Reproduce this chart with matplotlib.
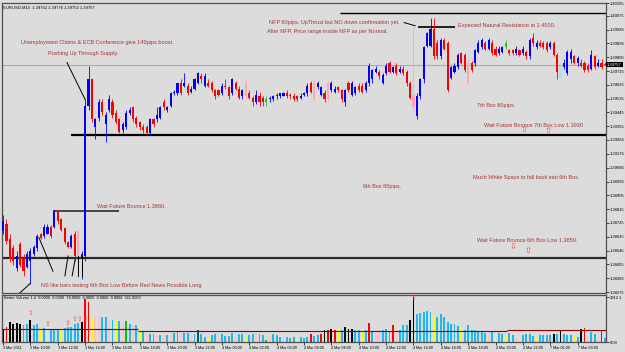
import numpy as np
import matplotlib.pyplot as plt

plt.rcParams['font.family'] = ['Liberation Sans', 'DejaVu Sans']

# ---------------- DATA : EURUSD M15, 3 Mar 2011 08:00 -> 7 Mar 2011 ---------------- #

opens = [1.3867, 1.3872, 1.3862, 1.3856, 1.3843, 1.3859, 1.3850, 1.3844, 1.3848, 1.3852,
         1.3856, 1.3865, 1.3864, 1.3865, 1.3870, 1.3870, 1.3880, 1.3875, 1.3869, 1.3860,
         1.3857, 1.3865, 1.3867, 1.3850, 1.3851, 1.3949, 1.3966, 1.3935, 1.3941, 1.3951,
         1.3937, 1.3946, 1.3951, 1.3944, 1.3940, 1.3933, 1.3935, 1.3944, 1.3948, 1.3941,
         1.3938, 1.3935, 1.3935, 1.3931, 1.3940, 1.3940, 1.3941, 1.3951, 1.3946, 1.3949,
         1.3957, 1.3957, 1.3964, 1.3962, 1.3962, 1.3958, 1.3960, 1.3964, 1.3968, 1.3962,
         1.3964, 1.3964, 1.3959, 1.3959, 1.3957, 1.3962, 1.3961, 1.3957, 1.3964, 1.3960,
         1.3955, 1.3964, 1.3957, 1.3954, 1.3951, 1.3955, 1.3954, 1.3951, 1.3953, 1.3953,
         1.3955, 1.3955, 1.3955, 1.3957, 1.3956, 1.3955, 1.3955, 1.3954, 1.3956, 1.3957,
         1.3964, 1.3964, 1.3961, 1.3956, 1.3957, 1.3964, 1.3959, 1.3958, 1.3961, 1.3959,
         1.3951, 1.3964, 1.3956, 1.3957, 1.3962, 1.3962, 1.3959, 1.3964, 1.3966, 1.3971,
         1.3971, 1.3964, 1.3970, 1.3977, 1.3971, 1.3975, 1.3971, 1.3973, 1.3971, 1.3964,
         1.3956, 1.3942, 1.3955, 1.3966, 1.3988, 1.3988, 1.3999, 1.3990, 1.3981, 1.3992,
         1.3990, 1.3967, 1.3971, 1.3974, 1.3983, 1.3982, 1.3977, 1.3977, 1.3977, 1.3984,
         1.3987, 1.3990, 1.3986, 1.3990, 1.3986, 1.3983, 1.3984, 1.3987, 1.3985, 1.3985,
         1.3983, 1.3985, 1.3983, 1.3984, 1.3981, 1.3993, 1.3987, 1.3990, 1.3990, 1.3990,
         1.3987, 1.3990, 1.3982, 1.3967, 1.3974, 1.3970, 1.3979, 1.3981, 1.3977, 1.3977,
         1.3977, 1.3975, 1.3973, 1.3981, 1.3975, 1.3977, 1.39762]

highs = [1.3878, 1.3875, 1.3865, 1.3858, 1.3854, 1.3860, 1.3852, 1.3854, 1.3856, 1.3858,
         1.3865, 1.3866, 1.3872, 1.3872, 1.3871, 1.3881, 1.3881, 1.3876, 1.3870, 1.3861,
         1.3865, 1.3867, 1.3868, 1.3854, 1.3953, 1.3975, 1.3967, 1.3941, 1.3953, 1.3953,
         1.3945, 1.3956, 1.3953, 1.3946, 1.3941, 1.3938, 1.3946, 1.3948, 1.3949, 1.3942,
         1.3939, 1.3937, 1.3936, 1.3941, 1.3941, 1.3948, 1.3949, 1.3953, 1.3949, 1.3958,
         1.3959, 1.3964, 1.3966, 1.3970, 1.3964, 1.3962, 1.3967, 1.3971, 1.3970, 1.3970,
         1.3966, 1.3965, 1.3960, 1.3960, 1.3964, 1.3966, 1.3962, 1.3967, 1.3965, 1.3962,
         1.3960, 1.3967, 1.3959, 1.3955, 1.3959, 1.3958, 1.3955, 1.3955, 1.3955, 1.3956,
         1.3957, 1.3957, 1.3958, 1.3959, 1.3957, 1.3957, 1.3956, 1.3957, 1.3958, 1.3964,
         1.3965, 1.3966, 1.3965, 1.3962, 1.3959, 1.3965, 1.3965, 1.3962, 1.3962, 1.3960,
         1.3960, 1.3965, 1.3965, 1.3962, 1.3964, 1.3964, 1.3965, 1.3977, 1.3973, 1.3975,
         1.3972, 1.3970, 1.3977, 1.3978, 1.3975, 1.3977, 1.3975, 1.3975, 1.3972, 1.3965,
         1.4001, 1.3957, 1.3967, 1.3988, 1.3997, 1.4006, 1.4006, 1.3992, 1.3993, 1.3993,
         1.3991, 1.3975, 1.3977, 1.3983, 1.3984, 1.3983, 1.3979, 1.3978, 1.3986, 1.3992,
         1.3993, 1.3991, 1.3993, 1.3992, 1.3988, 1.3988, 1.3988, 1.3992, 1.3986, 1.3986,
         1.3988, 1.3986, 1.3988, 1.3985, 1.3993, 1.3996, 1.3992, 1.3992, 1.3991, 1.3991,
         1.3991, 1.3991, 1.3983, 1.3977, 1.3979, 1.3985, 1.3986, 1.3982, 1.3981, 1.3979,
         1.3978, 1.3977, 1.3985, 1.3982, 1.3979, 1.3979, 1.39776]

lows = [1.3865, 1.3859, 1.3847, 1.3845, 1.3841, 1.3844, 1.3838, 1.3843, 1.3833, 1.3851,
        1.3854, 1.3862, 1.3863, 1.3865, 1.3863, 1.3869, 1.3872, 1.3867, 1.3859, 1.3856,
        1.3856, 1.3848, 1.3845, 1.3836, 1.3848, 1.3946, 1.3938, 1.3927, 1.3939, 1.3943,
        1.3925, 1.3945, 1.3941, 1.3937, 1.3931, 1.3931, 1.3934, 1.3943, 1.3938, 1.3935,
        1.3933, 1.3931, 1.3930, 1.3930, 1.3935, 1.3938, 1.3940, 1.3946, 1.3945, 1.3948,
        1.3956, 1.3956, 1.3956, 1.3961, 1.3956, 1.3957, 1.3959, 1.3963, 1.3964, 1.3961,
        1.3961, 1.3958, 1.3953, 1.3955, 1.3956, 1.3960, 1.3953, 1.3956, 1.3959, 1.3953,
        1.3953, 1.3953, 1.3953, 1.3949, 1.3950, 1.3949, 1.3949, 1.3949, 1.3951, 1.3952,
        1.3953, 1.3954, 1.3955, 1.3954, 1.3953, 1.3952, 1.3952, 1.3953, 1.3955, 1.3955,
        1.3957, 1.3951, 1.3960, 1.3955, 1.3951, 1.3951, 1.3958, 1.3957, 1.3958, 1.3951,
        1.3949, 1.3958, 1.3955, 1.3956, 1.3958, 1.3957, 1.3958, 1.3962, 1.3964, 1.3970,
        1.3966, 1.3963, 1.3969, 1.3970, 1.3970, 1.3969, 1.3970, 1.3969, 1.3962, 1.3953,
        1.3945, 1.3940, 1.3953, 1.3964, 1.3987, 1.3987, 1.3979, 1.3979, 1.3979, 1.3985,
        1.3958, 1.3966, 1.3970, 1.3973, 1.3976, 1.3971, 1.3962, 1.3971, 1.3975, 1.3983,
        1.3986, 1.3985, 1.3985, 1.3982, 1.3981, 1.3982, 1.3983, 1.3986, 1.3982, 1.3982,
        1.3982, 1.3981, 1.3982, 1.3979, 1.3979, 1.3988, 1.3986, 1.3987, 1.3986, 1.3984,
        1.3986, 1.3981, 1.3966, 1.3964, 1.3973, 1.3969, 1.3977, 1.3976, 1.3975, 1.3974,
        1.3971, 1.3971, 1.3972, 1.3973, 1.3974, 1.3973, 1.39752]

closes = [1.3874, 1.3861, 1.3849, 1.3848, 1.3851, 1.3845, 1.3841, 1.3852, 1.3854, 1.3857,
          1.3864, 1.3863, 1.3870, 1.3870, 1.3864, 1.3880, 1.3874, 1.3868, 1.3860, 1.3857,
          1.3864, 1.3851, 1.3851, 1.3852, 1.3949, 1.3966, 1.3940, 1.3940, 1.3951, 1.3945,
          1.3943, 1.3953, 1.3943, 1.3938, 1.3932, 1.3937, 1.3944, 1.3946, 1.3940, 1.3937,
          1.3935, 1.3933, 1.3931, 1.3940, 1.3937, 1.3943, 1.3948, 1.3948, 1.3948, 1.3957,
          1.3958, 1.3964, 1.3957, 1.3964, 1.3957, 1.3960, 1.3966, 1.3970, 1.3966, 1.3968,
          1.3962, 1.3959, 1.3955, 1.3956, 1.3962, 1.3961, 1.3955, 1.3966, 1.3960, 1.3954,
          1.3959, 1.3955, 1.3954, 1.3951, 1.3956, 1.3951, 1.3951, 1.3953, 1.3954, 1.3955,
          1.3956, 1.3957, 1.3957, 1.3955, 1.3955, 1.3953, 1.3953, 1.3955, 1.3957, 1.3962,
          1.3958, 1.3953, 1.3964, 1.3961, 1.3953, 1.3953, 1.3964, 1.3960, 1.3959, 1.3953,
          1.3959, 1.3959, 1.3964, 1.3961, 1.3959, 1.3958, 1.3964, 1.3975, 1.3972, 1.3973,
          1.3968, 1.3969, 1.3975, 1.3971, 1.3974, 1.3970, 1.3973, 1.3970, 1.3964, 1.3954,
          1.3948, 1.3955, 1.3966, 1.3987, 1.3996, 1.3999, 1.3981, 1.3981, 1.3992, 1.3986,
          1.3959, 1.3974, 1.3975, 1.3982, 1.3977, 1.3972, 1.3964, 1.3972, 1.3985, 1.3990,
          1.3992, 1.3986, 1.3992, 1.3983, 1.3982, 1.3986, 1.3987, 1.3990, 1.3983, 1.3983,
          1.3986, 1.3982, 1.3986, 1.3981, 1.3992, 1.3990, 1.3990, 1.3988, 1.3987, 1.3985,
          1.3990, 1.3982, 1.3971, 1.3975, 1.3977, 1.3984, 1.3984, 1.3977, 1.3980, 1.3975,
          1.3972, 1.3972, 1.3982, 1.3974, 1.3977, 1.3974, 1.39757]

# candle type: b up, r down, p weak down, c weak up, g neutral
bar_kind = ("brrrbrrbbb" "brbbrbrrrr" "brpbbbrbbr" "bbrrrbbbrr" "rrrbrbbrbb"
            "bbrbrbbbrb" "rrrrbrrbrr" "bprrbrrgbb" "bbbrrrrbbb" "rpbbrpbbrr"
            "brbbrrbbbb" "rbbrbrbrrr" "pbbbbbrrbr" "rbbbrrprbb" "brbrrbbgrr"
            "brbrbrbrrr" "brrcbbbrbr" "rrbrbrr")

volume = [680, 765, 1020, 935, 969, 935, 884, 935, 1139, 850,
          935, 629, 714, 765, 629, 680, 680, 629, 714, 765,
          765, 935, 969, 1020, 2200, 2040, 1309, 1309, 1309, 1309,
          1275, 1105, 1139, 1054, 1071, 969, 1054, 935, 850, 850,
          629, 510, 425, 425, 425, 340, 340, 340, 340, 340,
          459, 510, 425, 459, 459, 340, 425, 595, 425, 255,
          255, 340, 391, 340, 391, 289, 289, 459, 340, 425,
          391, 255, 340, 391, 340, 425, 340, 119, 289, 425,
          340, 255, 289, 255, 221, 255, 170, 255, 221, 255,
          425, 289, 340, 391, 629, 629, 680, 629, 629, 629,
          765, 680, 680, 595, 595, 561, 595, 969, 561, 510,
          510, 595, 680, 561, 850, 680, 595, 850, 850, 1105,
          2312, 1445, 1479, 1530, 1615, 1530, 1360, 1309, 1445, 1275,
          1020, 935, 935, 799, 765, 629, 884, 629, 595, 510,
          510, 459, 425, 510, 255, 459, 425, 289, 459, 340,
          255, 255, 340, 425, 391, 289, 255, 340, 340, 340,
          374, 425, 425, 544, 425, 340, 340, 340, 255, 680,
          731, 255, 510, 425, 255, 595, 204]

# Better Volume class: k climax, r climax down, s normal, p low, y low churn, g churn, d other
vol_kind = ("krkkkkssks" "sysysssyss" "ssskrrypps" "spsyspgsps" "yspsspspsp"
            "sspsspsdss" "ysspssssps" "sysspssgps" "sspsssysss" "rssrkrkrys"
            "kkkssysrsp" "psssrpsssk" "ksssssysss" "ssssysssss" "sspsyssyss"
            "pyssssysss" "sksksssysk" "rpssprs")

vol_avg_levels = [680, 590, 600]
vol_avg_breaks = [0, 40, 148, 177]
# signal arrows above volume bars: (bar, value, how many arrows side by side)
vol_signals = [(8, 1445, 1), (13, 900, 1), (18.8, 960, 1), (22.6, 1180, 3), (120, 2250, 1)]
vol_max = 2312.1

time_labels = ["3 Mar 2011", "3 Mar 10:00", "3 Mar 12:00", "3 Mar 14:00", "3 Mar 16:00",
               "3 Mar 18:00", "3 Mar 20:00", "3 Mar 22:00", "4 Mar 00:00", "4 Mar 02:00",
               "4 Mar 04:00", "4 Mar 06:00", "4 Mar 08:00", "4 Mar 10:00", "4 Mar 12:00",
               "4 Mar 14:00", "4 Mar 16:00", "4 Mar 18:00", "4 Mar 20:00", "4 Mar 22:00",
               "7 Mar 01:00", "7 Mar 03:00"]
price_labels = ["1.40155", "1.40075", "1.39985", "1.39895", "1.39805", "1.39715",
                "1.39625", "1.39535", "1.39445", "1.39355", "1.39266", "1.39176",
                "1.39086", "1.38995", "1.38905", "1.38815", "1.38725", "1.38635",
                "1.38545", "1.38455", "1.38366", "1.38275"]
last_price = 1.39757
header = "EURUSD,M15  1.39762 1.39776 1.39752 1.39757"
vol_header = "Better Volume 1.4  0.0000  0.0000  74.0000  0.0000  0.0000  0.0000  511.0000"

# horizontal levels: price, first bar, last bar (None = to the right edge)
levels = [(1.4009, 98.5, None, 1.0, 'black'),
          (1.4000, 121.3, 132.2, 1.2, 'black'),
          (1.3930, 19.9, None, 1.6, 'black'),
          (1.3880, 14.6, 33.9, 1.3, '#3a3a3a'),
          (1.3850, -1, None, 1.6, '#2a2a2a')]

# thin trend lines drawn by hand: (bar0, price0, bar1, price1)
pointers = [(18.7, 1.3977, 24.0, 1.3953),
            (117.3, 1.4003, 120.5, 1.4001),
            (14.6, 1.3841, 10.5, 1.3863),
            (18.1, 1.3838, 19.0, 1.3851),
            (20.2, 1.3838, 21.1, 1.3849),
            (21.9, 1.3838, 21.9, 1.3851),
            (23.1, 1.3838, 23.1, 1.3851),
            (4.5, 1.3826, 7.9, 1.3833)]

notes = [("Unemployment Claims & ECB Conference give 140pips boost.", 5.3, 1.3990),
         ("Pushing Up Through Supply.", 13.2, 1.3983),
         ("NFP 60pips. UpThrust but NO down confirmation yet.", 77.8, 1.4003),
         ("After NFP, Price range inside NFP as per Normal.", 77.2, 1.3997),
         ("Expected Natural Resistance at 1.4000.", 133.0, 1.4001),
         ("7th Box 80pips.", 138.6, 1.3949),
         ("Wait Future Bounce 7th Box Low 1.3930", 140.6, 1.3936),
         ("Much White Space to fall back into 6th Box.", 137.4, 1.3902),
         ("6th Box 80pips.", 105.3, 1.3896),
         ("Wait Future Bounce 6th Box Low 1.3850.", 138.6, 1.3861),
         ("Wait Future Bounce 1.3880.", 27.5, 1.3883),
         ("NS like bars testing 6th Box Low Before Red News Possible Long", 11.1, 1.3832)]

arrows = [("\u21e7", 152.3, 1.3933), ("\u21e7", 159.4, 1.3932),
          ("\u21e9", 149.1, 1.3856), ("\u21e7", 153.5, 1.3854)]

# ---------------- STYLE ---------------- #
bg = '#dcdcdc'
note_color = '#a83434'
candle_colors = {'b': '#0000ff', 'r': '#ff0000', 'p': '#ffa8b4', 'c': '#a8e4f4', 'g': '#30c030'}
vol_colors = {'k': '#000000', 'r': '#ff0000', 's': '#22b8ee', 'p': '#ffc0cb',
              'y': '#ffff00', 'g': '#00c800', 'd': '#2f4f4f'}

fig = plt.figure(figsize=(6.25, 3.52), dpi=100, facecolor=bg)
ax = fig.add_axes([2/625, 59.5/352, 604/625, 289.5/352], facecolor=bg)
vax = fig.add_axes([2/625, 10/352, 604/625, 47/352], facecolor=bg)

n = len(opens)
x = np.arange(n)
o = np.array(opens)
c = np.array(closes)
cols = [candle_colors[k] for k in bar_kind]

xmin, xmax = -0.3, 176.3

# ---------------- PRICE PANEL ---------------- #
ax.axhline(last_price, color='#a0a0a0', lw=0.6, zorder=1)
for price, b0, b1, lw, col in levels:
    ax.hlines(price, b0, xmax + 1 if b1 is None else b1, color=col, lw=lw, zorder=2)
for b0, p0, b1, p1 in pointers:
    ax.plot([b0, b1], [p0, p1], color='black', lw=0.7, zorder=4)

ax.vlines(x, lows, highs, colors=cols, lw=0.6, zorder=3)
body_lo = np.minimum(o, c)
body_h = np.maximum(np.abs(c - o), 0.00006)
ax.bar(x, body_h, bottom=body_lo, width=0.62, color=cols, lw=0, zorder=3)

for txt, b, p in notes:
    ax.text(b, p, txt, fontsize=4.0, color=note_color, ha='left', va='center', zorder=5)
for sym, b, p in arrows:
    ax.text(b, p, sym, fontsize=6, color='#ff4040', ha='center', va='center', zorder=5)

ax.text(0.002, 0.992, header, transform=ax.transAxes, fontsize=2.95,
        color='black', ha='left', va='top')

ax.set_xlim(xmin, xmax)
ax.set_ylim(1.38272, 1.40158)
ax.set_xticks([])
ax.yaxis.tick_right()
ax.set_yticks([float(s) for s in price_labels])
ax.set_yticklabels(price_labels)
ax.tick_params(axis='y', length=2, width=0.5, pad=1, labelsize=3.0, colors='black')
ax.text(1.002, last_price, f"{last_price:.5f}", transform=ax.get_yaxis_transform(),
        fontsize=3.0, color='white', ha='left', va='center',
        bbox=dict(boxstyle='square,pad=0.2', fc='black', ec='none'))
for s in ax.spines.values():
    s.set_color('#505050')
    s.set_linewidth(0.9)

# ---------------- VOLUME PANEL ---------------- #
vcols = [vol_colors[k] for k in vol_kind]
vax.bar(x, volume, width=0.55, color=vcols, lw=0, zorder=2)
for i, lev in enumerate(vol_avg_levels):
    vax.hlines(lev, vol_avg_breaks[i] - 0.5, vol_avg_breaks[i + 1] - 0.5,
               color='#8b0000', lw=0.8, zorder=3)
for b, v, k in vol_signals:
    vax.text(b, v, "\u21e7" * k, fontsize=5, color='#ff5050', ha='center', va='center', zorder=4)
vax.text(0.003, 0.97, vol_header, transform=vax.transAxes, fontsize=2.9,
         color='black', ha='left', va='top')

vax.set_xlim(xmin, xmax)
vax.set_ylim(0, 2415)
vax.yaxis.tick_right()
vax.set_yticks([0, vol_max])
vax.set_yticklabels(["0.00", f"{vol_max:.1f}"])
vax.tick_params(axis='y', length=2, width=0.5, pad=1, labelsize=3.0, colors='black')
vax.set_xticks(np.arange(0, 8 * len(time_labels), 8))
vax.set_xticklabels(time_labels, ha='left')
vax.tick_params(axis='x', length=2, width=0.5, pad=0.8, labelsize=2.7, colors='black')
for s in vax.spines.values():
    s.set_color('#505050')
    s.set_linewidth(0.9)

fig.savefig('out.png', dpi=100, facecolor=bg)
